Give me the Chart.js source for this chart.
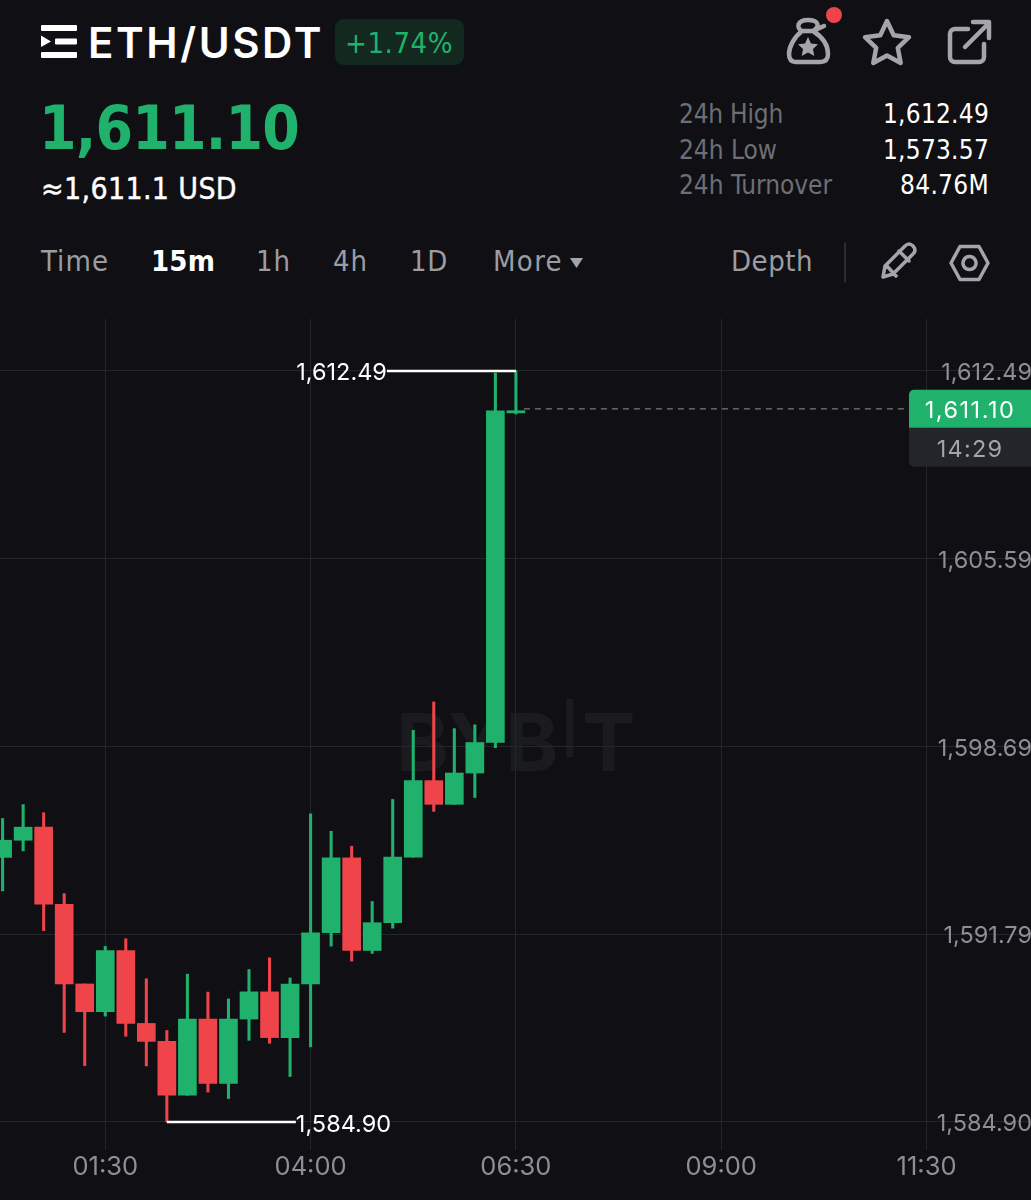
<!DOCTYPE html>
<html><head><meta charset="utf-8">
<script src="https://cdn.jsdelivr.net/npm/chart.js@4"></script>
<style>
html,body{margin:0;padding:0;background:#101014;width:1031px;height:1200px;overflow:hidden}
body{position:relative;font-family:"DejaVu Sans Condensed","DejaVu Sans",sans-serif;color:#fff}
.t{position:absolute;white-space:nowrap;line-height:1;transform:translateY(-50%)}
.g{color:#9b9da2}.l{color:#6d6f74}
#badge{position:absolute;left:335px;top:19px;width:129px;height:46px;border-radius:9px;background:#13291f}
.wm{position:absolute;font:700 80px Inter,sans-serif;color:#1a1b1f;line-height:1}
#chartBox{position:absolute;left:0;top:319px;width:1031px;height:881px}
svg{position:absolute;left:0;top:0}
</style></head><body>
<span class="wm" style="left:396px;top:702px;letter-spacing:-1px">BYB</span>
<span class="wm" style="left:559px;top:688px;font-weight:400">I</span>
<span class="wm" style="left:582px;top:702px">T</span>
<div id="badge"></div>
<svg width="1031" height="319" fill="none" stroke="#a3a5aa" stroke-width="4.5" stroke-linejoin="round" stroke-linecap="round">
  <g fill="#fff" stroke="none">
    <rect x="41" y="25" width="36" height="6" rx="1"/><rect x="55" y="38.5" width="22" height="6" rx="1"/><rect x="41" y="52" width="36" height="6" rx="1"/>
    <path d="M41 35.500L51 41.500L41 47z"/>
  </g>
  <path d="M802 31 C796 28 797 20 808 20 C818 20 821 26 813 31 M802 31 L813 31 M813 31 L824 26 M802 31 C793 38 789 48 789 54 C789 60 792 62 796 62 L820 62 C825 62 828 60 828 54 C828 47 824 38 813 31"/>
  <path d="M808 37l3 6.500 7 .8-5 4.800 1.300 7-6.300-3.500-6.300 3.500 1.300-7-5-4.800 7-.8z" fill="#a3a5aa" stroke="none"/>
  <circle cx="834" cy="15" r="8" fill="#ef454a" stroke="none"/>
  <path d="M887 21l6.700 14.200 15.300 2-11.200 10.700 2.900 15.100-13.700-7.500-13.700 7.500 2.900-15.100-11.200-10.700 15.300-2z"/>
  <path d="M968 29H955a5 5 0 0 0-5 5v23a5 5 0 0 0 5 5h24a5 5 0 0 0 5-5V44M965 47L989 23M973 22H989V38"/>
  <path d="M845 243V282" stroke="#35363b" stroke-width="1.500"/>
  <path d="M883 277l2-11 20-20c3-3 6-2 8 0s3 5 0 8l-20 20zM886 265l10 11M899 251l10 10" stroke-width="3.500"/>
  <path d="M960 246.500h19l9 16.500-9 16.500h-19l-9-16.500z M969.500 256.500a6.500 6.500 0 1 0 .01 0z" stroke-width="3.500"/>
  <path d="M570 258H583L576.500 268z" fill="#a3a5aa" stroke="none"/>
</svg>
<span class="t" style="left:88px;top:43px;font-family:Inter,sans-serif;font-size:42px;font-weight:600" data-w="236">ETH/USDT</span>
<span class="t" style="left:345px;top:43px;font-size:29px;color:#20b26c" data-w="108">+1.74%</span>
<span class="t" style="left:39px;top:128px;font-size:60px;font-weight:700;color:#20b26c" data-w="260">1,611.10</span>
<span class="t" style="left:41px;top:189px;font-size:30px;-webkit-text-stroke:.4px #fff" data-w="196">≈1,611.1 USD</span>
<span class="t g" style="left:41px;top:261px;font-size:29px" data-w="68">Time</span>
<span class="t" style="left:151px;top:261px;font-size:29px;font-weight:700" data-w="64">15m</span>
<span class="t g" style="left:256px;top:261px;font-size:29px" data-w="35">1h</span>
<span class="t g" style="left:333px;top:261px;font-size:29px" data-w="35">4h</span>
<span class="t g" style="left:410px;top:261px;font-size:29px" data-w="38">1D</span>
<span class="t g" style="left:493px;top:261px;font-size:29px" data-w="70">More</span>
<span class="t g" style="left:731px;top:261px;font-size:29px" data-w="82">Depth</span>
<span class="t l" style="left:679px;top:114px;font-size:26px" data-w="104">24h High</span>
<span class="t l" style="left:679px;top:150px;font-size:26px" data-w="98">24h Low</span>
<span class="t l" style="left:679px;top:185px;font-size:26px" data-w="153">24h Turnover</span>
<span class="t" style="left:883px;top:114px;font-size:26px" data-w="106">1,612.49</span>
<span class="t" style="left:883px;top:150px;font-size:26px" data-w="106">1,573.57</span>
<span class="t" style="left:900px;top:185px;font-size:26px" data-w="89">84.76M</span>
<div id="chartBox"><canvas id="c" width="1031" height="881" style="display:block;width:1031px;height:881px"></canvas></div>
<script>
// ---- values ----
const categories = ['00:15','00:30','00:45','01:00','01:15','01:30','01:45','02:00','02:15','02:30','02:45','03:00','03:15','03:30','03:45','04:00','04:15','04:30','04:45','05:00','05:15','05:30','05:45','06:00','06:15','06:30'];
const opens  = [1594.62,1595.25,1595.73,1592.90,1589.97,1588.95,1591.20,1588.52,1587.86,1585.88,1588.68,1586.32,1588.68,1589.68,1588.00,1589.97,1591.85,1594.60,1591.20,1592.22,1594.63,1597.44,1596.57,1597.72,1598.84,1610.95];
const highs  = [1596.05,1596.56,1596.26,1593.29,1589.97,1591.35,1591.63,1590.16,1588.26,1590.33,1589.67,1589.42,1590.50,1590.93,1590.19,1596.22,1595.58,1595.03,1593.00,1596.75,1599.29,1600.33,1599.35,1599.49,1612.41,1612.49];
const lows   = [1593.39,1594.86,1591.93,1588.19,1586.97,1588.79,1588.05,1586.96,1584.90,1585.88,1586.00,1585.76,1587.90,1587.79,1586.57,1587.66,1591.36,1590.81,1591.09,1592.02,1594.63,1596.31,1596.57,1596.82,1598.65,1610.91];
const closes = [1595.25,1595.73,1592.90,1589.97,1588.95,1591.20,1588.52,1587.86,1585.88,1588.68,1586.32,1588.68,1589.68,1588.00,1589.97,1591.85,1594.60,1591.20,1592.22,1594.63,1597.44,1596.57,1597.72,1598.84,1611.03,1611.03];
const timeTicks = ['01:30','04:00','06:30','09:00','11:30'];
const priceTicks = [1612.49,1605.59,1598.69,1591.79,1584.90];
const high24 = 1612.49, highTime = '06:30';
const low24 = 1584.90, lowTime = '02:15';
const lastPrice = 1611.10, countdown = '14:29';

const UP='#20b26c', DOWN='#ef454a', GRID='#25262b', AXIS='#8d8f94';
const toMin = s => { const [h,m]=s.split(':').map(Number); return h*60+m; };
const fmt = v => v.toLocaleString('en-US',{minimumFractionDigits:2,maximumFractionDigits:2});
const colors = closes.map((c,i)=> c>=opens[i] ? UP : DOWN);
const FONT = 'Inter, sans-serif';

// fit header text widths
document.querySelectorAll('[data-w]').forEach(el=>{
  const n=el.textContent.length, w=el.getBoundingClientRect().width;
  el.style.letterSpacing=((+el.dataset.w-w)/n)+'px';
});

const overlay = {
  id:'overlay',
  afterDatasetsDraw(chart){
    const {ctx,scales:{x,y},chartArea:a}=chart;
    ctx.save();
    const R=a.right,L=R-122;
    // last price dashed line
    const ly=y.getPixelForValue(lastPrice);
    ctx.strokeStyle='#77797e';ctx.lineWidth=1.2;ctx.setLineDash([6,5]);
    ctx.beginPath();ctx.moveTo(x.getPixelForValue(toMin(highTime))+8,ly);ctx.lineTo(L,ly);ctx.stroke();
    ctx.setLineDash([]);
    // high / low leaders
    ctx.strokeStyle='#fff';ctx.lineWidth=2.5;ctx.fillStyle='#fff';ctx.font='23.500px '+FONT;ctx.textBaseline='middle';
    const hx=x.getPixelForValue(toMin(highTime)),hy=y.getPixelForValue(high24);
    ctx.beginPath();ctx.moveTo(hx,hy);ctx.lineTo(hx-129,hy);ctx.stroke();
    ctx.textAlign='right';ctx.fillText(fmt(high24),hx-129,hy+2);
    const lx=x.getPixelForValue(toMin(lowTime)),lwy=y.getPixelForValue(low24);
    ctx.beginPath();ctx.moveTo(lx,lwy);ctx.lineTo(lx+129,lwy);ctx.stroke();
    ctx.textAlign='left';ctx.fillText(fmt(low24),lx+129,lwy+3);
    // last price tag + countdown
    ctx.fillStyle='#24252a';ctx.beginPath();ctx.roundRect(L,ly+19,122,39,[0,0,0,5]);ctx.fill();
    ctx.fillStyle=UP;ctx.beginPath();ctx.roundRect(L,ly-19,122,38,[5,0,0,0]);ctx.fill();
    ctx.textAlign='center';ctx.fillStyle='#fff';ctx.letterSpacing='1.5px';ctx.fillText(fmt(lastPrice),L+61,ly+2);
    ctx.fillStyle='#a3a5aa';ctx.letterSpacing='1.2px';ctx.fillText(countdown,L+61,ly+41);
    ctx.restore();
  }
};

new Chart(document.getElementById('c'),{
  type:'bar',
  data:{datasets:[
    {label:'wick',order:2,grouped:false,barThickness:2.4,backgroundColor:colors,
     data:categories.map((t,i)=>({x:toMin(t),y:[lows[i],highs[i]]}))},
    {label:'body',order:1,grouped:false,barThickness:18,backgroundColor:colors,
     data:categories.map((t,i)=>({x:toMin(t),y:[opens[i],closes[i]]}))}
  ]},
  options:{
    responsive:false,animation:false,devicePixelRatio:1,events:[],
    layout:{padding:0},
    plugins:{legend:{display:false},tooltip:{enabled:false}},
    datasets:{bar:{grouped:false}},
    scales:{
      x:{type:'linear',min:13.1,max:766.3,offset:false,
        afterBuildTicks:s=>{s.ticks=timeTicks.map(t=>({value:toMin(t)}));},
        afterFit:s=>{s.height=50;s.paddingLeft=0;s.paddingRight=0;},
        border:{display:false},
        grid:{color:GRID,lineWidth:1,drawTicks:false,offset:false},
        ticks:{autoSkip:false,maxRotation:0,color:AXIS,padding:2,font:{family:FONT,size:25.5},
          callback:v=>timeTicks[timeTicks.findIndex(t=>toMin(t)===v)]}
      },
      y:{type:'linear',position:'right',min:1583.87,max:1614.40,
        afterBuildTicks:s=>{s.ticks=priceTicks.map(v=>({value:v}));},
        afterFit:s=>{s.width=0;s.paddingTop=0;s.paddingBottom=0;},
        border:{display:false},
        grid:{color:GRID,lineWidth:1,drawTicks:false},
        ticks:{mirror:true,autoSkip:false,color:AXIS,padding:1,labelOffset:2,font:{family:FONT,size:23.5},callback:v=>fmt(v)}
      }
    }
  },
  plugins:[overlay]
});
</script>
</body></html>
